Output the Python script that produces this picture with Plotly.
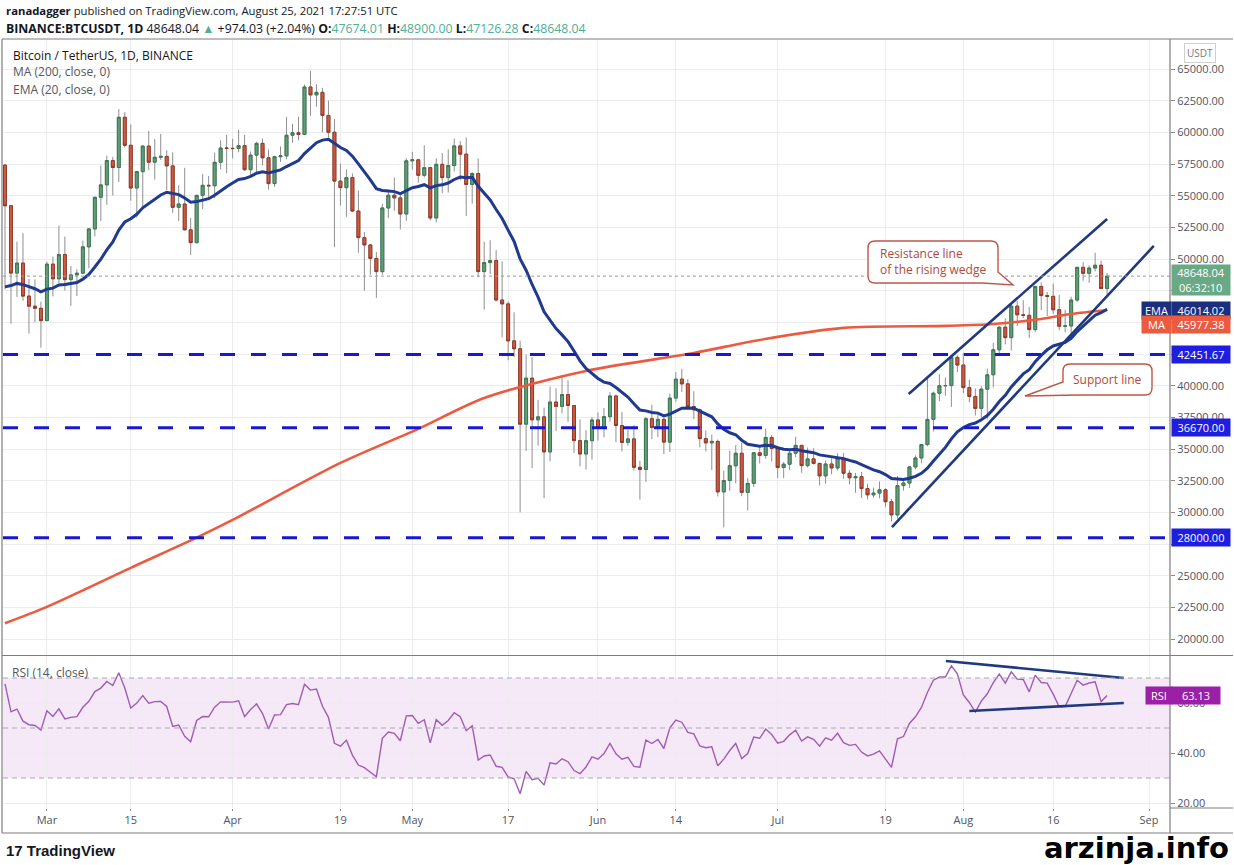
import plotly.graph_objects as go
import pandas as pd

# ---------------- data ----------------
start_date = "2021-02-22"
opens = [57412,54204,48891,49677,47073,46276,46107,
 45135,49595,48437,50349,48374,48747,48882,50959,52375,54875,55851,57773,57222,61188,58976,55605,56900,58912,57641,58030,58100,57351,54083,54342,52303,51293,55025,55817,55781,57635,58760,
 58740,58720,58950,57051,58202,59129,57991,55953,58077,58143,59770,59964,59835,63576,62959,63159,61334,60006,56150,55633,56425,53787,51690,51111,50047,49004,54030,55034,54825,53555,
 57750,57828,56610,57214,53241,57473,56428,57380,58928,58280,55883,56751,49008,49716,49880,46761,46456,43537,42910,36964,40596,37304,37537,34771,38706,38366,39294,38437,35663,34606,35658,
 37294,36687,37556,39187,36851,35520,35797,33556,33380,37389,36698,37341,35546,39021,40516,40144,38349,38093,35820,35484,35601,31614,32510,33676,34663,31577,32283,34702,34494,35912,
 35045,33538,33800,34668,35288,33690,34220,33863,32875,33815,33502,34259,33086,32729,32820,31874,31383,31520,31778,30839,29796,32110,32314,33582,34292,35350,37337,39406,39995,40008,42235,
 41626,39846,39147,38207,39723,40862,42836,44614,43792,46281,45595,45555,44428,47834,47113,47056,45993,44696,44714,46760,49340,48868,49285,49508,47674]
highs = [57508,54204,51374,52042,48424,48395,46638,
 49790,50200,52640,51773,49448,49200,51450,52402,54895,57387,58150,58058,61844,61599,60633,56938,58981,60100,59468,59880,58589,58430,55830,57200,53238,55073,56700,56559,58405,59368,59800,
 59490,60200,59791,58492,59251,59500,58655,58153,58894,61216,60680,61238,63777,64854,63800,63520,62506,61057,57526,57076,56757,55410,52130,51167,50551,54356,55460,56428,55196,57963,
 58458,57911,58981,57214,57939,58360,58650,59500,59300,59592,56862,57939,51367,51483,50700,49800,46643,45799,43546,42451,42250,38889,38270,39920,39791,40841,40411,38438,37338,36488,37534,
 37894,38237,39476,39289,37917,36480,36900,34068,37534,38491,37680,37437,39380,41064,41330,40528,39560,38202,36457,36137,35750,33298,34881,35298,35500,32700,34750,35298,36600,36100,
 35057,33977,34945,35967,35293,35118,35059,33918,34100,34262,34666,34679,33340,33114,33185,32249,31950,32435,31899,31063,32858,32586,33650,34500,35400,40550,39542,40900,40640,42316,42414,
 42599,40480,39780,39969,41350,43392,44700,45310,46454,46700,46743,46218,47886,48144,47392,48053,47160,46000,47033,49382,49757,49500,50500,49875,48900]
lows = [47622,44892,47004,46700,44106,45000,43000,
 45116,47047,48100,47500,46300,47070,48882,49274,51789,53005,54272,55013,56078,58800,54600,53271,54123,57023,56270,57821,55450,53650,53000,52819,50313,51225,53950,54691,54800,57071,56769,
 57935,58428,56955,56500,56800,57400,55473,55700,57654,57870,59167,59365,59805,61301,62021,60000,59580,50931,54221,53329,53696,50500,47500,48753,46930,48753,53222,53813,52330,53013,
 57052,56035,56435,53046,52900,55200,55241,56900,56235,53400,54370,48600,46000,48800,46650,43825,42002,42250,30000,34850,33488,35257,31111,34031,36419,37800,37134,34684,33632,33379,34153,
 35666,35920,37171,35555,34800,35258,33300,31000,32396,35782,35936,34601,34757,38730,39506,38116,37365,35130,34803,33336,31251,28805,31683,32286,31275,30151,32000,33862,34225,34017,
 32712,32699,33316,34357,33125,33532,33777,32120,32261,33004,33307,32658,32202,31550,31133,31020,31164,31108,30407,29278,29482,31708,31925,33401,33881,35206,36383,38772,39200,38323,41064,
 39422,38690,37642,37508,37332,39853,42446,43261,42779,44723,45341,43770,44218,45971,45500,45660,44376,44203,43955,46622,48280,48119,49028,47600,47126]
closes = [54204,48891,49677,47073,46276,46107,45135,
 49595,48437,50349,48374,48747,48882,50959,52375,54875,55851,57773,57222,61188,58976,55605,56900,58912,57641,58030,58100,57351,54083,54342,52303,51293,55025,55817,55781,57635,58760,58740,
 58720,58950,57051,58202,59129,57991,55953,58077,58143,59770,59964,59835,63576,62959,63159,61334,60006,56150,55633,56425,53787,51690,51111,50047,49004,54030,55034,54825,53555,57750,
 57828,56610,57214,53241,57473,56428,57380,58928,58280,55883,56751,49008,49716,49880,46761,46456,43537,42910,36964,40596,37304,37537,34771,38706,38366,39294,38437,35663,34606,35658,37294,
 36687,37556,39187,36851,35520,35797,33556,33380,37389,36698,37341,35546,39021,40516,40144,38349,38093,35820,35484,35601,31614,32510,33676,34663,31577,32283,34702,34494,35912,35045,
 33538,33800,34668,35288,33690,34220,33863,32875,33815,33502,34259,33086,32729,32820,31874,31383,31520,31778,30839,29796,32110,32314,33582,34292,35350,37337,39406,39995,40008,42235,41626,
 39846,39147,38207,39723,40862,42836,44614,43792,46281,45595,45555,44428,47834,47113,47056,45993,44696,44714,46760,49340,48868,49285,49508,47674,48648.04]

# MA(200)
ma_dates = ["2021-02-22","2021-03-01","2021-03-15","2021-03-26","2021-04-01","2021-04-19","2021-05-02",
            "2021-05-13","2021-05-30","2021-06-17","2021-06-28","2021-07-12","2021-07-29","2021-08-06",
            "2021-08-14","2021-08-19","2021-08-25"]
ma_values = [21250,22540,25620,28000,29400,33900,36590,39030,41160,42580,43610,44560,44720,44870,45270,45660,45977.38]

ema_seed = 47800          # EMA(20) value at the first candle
rsi_seed_gain = 1500      # Wilder averages before the first candle
rsi_seed_loss = 470

levels = [42451.67, 36670.00, 28000.00]
last_price = 48648.04
ema_last = 46014.02
ma_last = 45977.38
rsi_last = 63.13

tick_dates = ["2021-03-01","2021-03-15","2021-04-01","2021-04-19","2021-05-01","2021-05-17","2021-06-01",
              "2021-06-14","2021-07-01","2021-07-19","2021-08-01","2021-08-16","2021-09-01"]
tick_text = ["Mar","15","Apr","19","May","17","Jun","14","Jul","19","Aug","16","Sep"]
price_ticks = list(range(20000, 65001, 2500))
hidden_price_ticks = [27500, 42500, 45000, 47500]   # covered by the price tags
rsi_ticks = [20, 40, 60]

# hand-drawn trendlines (date, value)
resistance_line = [("2021-07-22 21:00", 39340), ("2021-08-25 00:00", 53160)]
support_line = [("2021-07-20 02:00", 28840), ("2021-09-01 19:00", 51030)]
rsi_upper = [("2021-07-29 02:00", 76.8), ("2021-08-27 19:00", 70.0)]
rsi_lower = [("2021-08-02 00:00", 56.8), ("2021-08-27 19:00", 60.0)]

# ---------------- derived ----------------
dates = pd.date_range(start_date, periods=len(closes), freq="D")
body_hi = [max(o, c) for o, c in zip(opens, closes)]
body_lo = [min(o, c) for o, c in zip(opens, closes)]
price_tick_text = ["" if v in hidden_price_ticks else f"{v:.2f}" for v in price_ticks]

ema = []
e = ema_seed
for i, c in enumerate(closes):
    if i > 0:
        e = e + (c - e) * 2 / 21
    ema.append(e)

rsi = []
ag, al = rsi_seed_gain, rsi_seed_loss
prev = opens[0]
for c in closes:
    ch = c - prev
    ag = (ag * 13 + max(ch, 0)) / 14
    al = (al * 13 + max(-ch, 0)) / 14
    rsi.append(100 - 100 / (1 + ag / al))
    prev = c

# ---------------- figure ----------------
W, H = 1234, 865
L, R, T, B = 3, 64, 40, 57
PW, PH = W - L - R, H - T - B


def px(x):
    return (x - L) / PW


def py(y):
    return (H - B - y) / PH


GREEN_FILL, GREEN_LINE = "#5f9f78", "#3d7853"
RED_FILL, RED_LINE = "#cf5a40", "#933a28"
WICK = "#8f8f8f"
FONT = "Open Sans"

fig = go.Figure()

fig.add_trace(go.Candlestick(
    x=dates, open=opens, high=highs, low=lows, close=closes, xaxis="x", yaxis="y",
    increasing=dict(line=dict(color=WICK, width=1), fillcolor=WICK),
    decreasing=dict(line=dict(color=WICK, width=1), fillcolor=WICK),
    hoverinfo="skip", showlegend=False))
fig.add_trace(go.Candlestick(
    x=dates, open=opens, high=body_hi, low=body_lo, close=closes, xaxis="x", yaxis="y",
    increasing=dict(line=dict(color=GREEN_LINE, width=1), fillcolor=GREEN_FILL),
    decreasing=dict(line=dict(color=RED_LINE, width=1), fillcolor=RED_FILL),
    hoverinfo="skip", showlegend=False))

fig.add_trace(go.Scatter(x=pd.to_datetime(ma_dates), y=ma_values, mode="lines", xaxis="x", yaxis="y",
                         line=dict(color="#ec5a40", width=2.6, shape="spline", smoothing=0.8),
                         hoverinfo="skip", showlegend=False))
fig.add_trace(go.Scatter(x=dates, y=ema, mode="lines", xaxis="x", yaxis="y",
                         line=dict(color="#1f3a8f", width=3), hoverinfo="skip", showlegend=False))

fig.add_trace(go.Scatter(x=dates, y=rsi, mode="lines", xaxis="x2", yaxis="y2",
                         line=dict(color="#a05cb4", width=1.4), hoverinfo="skip", showlegend=False))

# trendlines
for pts, ax in [(resistance_line, "y"), (support_line, "y"), (rsi_upper, "y2"), (rsi_lower, "y2")]:
    xr = "x" if ax == "y" else "x2"
    fig.add_trace(go.Scatter(x=[pd.Timestamp(p[0]) for p in pts], y=[p[1] for p in pts], mode="lines",
                             xaxis=xr, yaxis=ax, line=dict(color="#203a80", width=2.6),
                             hoverinfo="skip", showlegend=False))

x_range = [pd.Timestamp("2021-02-21 16:00"), pd.Timestamp("2021-09-04 12:00")]
grid = "#ececef"
axis_font = dict(family=FONT, size=11, color="#50535e")

main_bottom = py(655)
rsi_top = py(656)

fig.update_layout(
    width=W, height=H, margin=dict(l=L, r=R, t=T, b=B),
    paper_bgcolor="white", plot_bgcolor="white",
    xaxis=dict(domain=[0, 1], anchor="y", range=x_range, showticklabels=False, tickvals=pd.to_datetime(tick_dates),
               showgrid=True, gridcolor=grid, zeroline=False, rangeslider=dict(visible=False), fixedrange=True),
    xaxis2=dict(domain=[0, 1], anchor="y2", range=x_range, matches="x", tickvals=pd.to_datetime(tick_dates),
                ticktext=tick_text, showgrid=True, gridcolor=grid, ticks="outside", ticklen=2, tickcolor="#888",
                tickfont=axis_font, zeroline=False, rangeslider=dict(visible=False)),
    yaxis=dict(domain=[main_bottom, 1], anchor="x", side="right", range=[18737, 67290], tickvals=price_ticks,
               ticktext=price_tick_text, showgrid=True, gridcolor=grid, ticks="outside", ticklen=4, tickcolor="#888",
               tickfont=axis_font, zeroline=False),
    yaxis2=dict(domain=[0, rsi_top], anchor="x2", side="right", range=[18, 78.8], tickvals=rsi_ticks,
                tickformat=".2f", showgrid=True, gridcolor=grid, ticks="outside", ticklen=4, tickcolor="#888",
                tickfont=axis_font, zeroline=False),
    font=dict(family=FONT),
)

shapes = []
# RSI band
shapes.append(dict(type="rect", xref="x2 domain", yref="y2", x0=0, x1=1, y0=30, y1=70,
                   fillcolor="rgba(156,39,176,0.10)", line=dict(width=0), layer="below"))
for v in [70, 50, 30]:
    shapes.append(dict(type="line", xref="x2 domain", yref="y2", x0=0, x1=1, y0=v, y1=v,
                       line=dict(color="#a9a9b0", width=1, dash="5px,4px")))
# horizontal dashed levels
for v in levels:
    shapes.append(dict(type="line", xref="x domain", yref="y", x0=0, x1=1, y0=v, y1=v,
                       line=dict(color="#1818d0", width=3, dash="15px,16px")))
# last price dotted line
shapes.append(dict(type="line", xref="x domain", yref="y", x0=0, x1=1, y0=last_price, y1=last_price,
                   line=dict(color="#9a9a9a", width=1, dash="dot")))
# frame lines
FR = "#7d7d7d"
shapes += [
    dict(type="line", xref="paper", yref="paper", x0=px(2), x1=px(2), y0=py(39), y1=py(833), line=dict(color=FR, width=1.2)),
    dict(type="line", xref="paper", yref="paper", x0=px(2), x1=px(1233), y0=py(39), y1=py(39), line=dict(color=FR, width=1.2)),
    dict(type="line", xref="paper", yref="paper", x0=px(2), x1=px(1233), y0=py(833), y1=py(833), line=dict(color=FR, width=1.2)),
    dict(type="line", xref="paper", yref="paper", x0=px(1170), x1=px(1170), y0=py(39), y1=py(833), line=dict(color=FR, width=1.2)),
    dict(type="line", xref="paper", yref="paper", x0=px(2), x1=px(1233), y0=py(655.5), y1=py(655.5), line=dict(color=FR, width=1.2)),
    dict(type="line", xref="paper", yref="paper", x0=px(1170), x1=px(1233), y0=py(808), y1=py(808), line=dict(color=FR, width=1)),
]


def callout(pts):
    s = ""
    for cmd in pts:
        if cmd[0] in ("M", "L"):
            s += f"{cmd[0]} {px(cmd[1]):.5f},{py(cmd[2]):.5f} "
        elif cmd[0] == "Q":
            s += f"Q {px(cmd[1]):.5f},{py(cmd[2]):.5f} {px(cmd[3]):.5f},{py(cmd[4]):.5f} "
    return s + "Z"


r = 7
c1 = callout([("M", 868 + r, 241), ("L", 998 - r, 241), ("Q", 998, 241, 998, 241 + r), ("L", 998, 272),
              ("L", 1013, 285), ("L", 982, 283), ("L", 868 + r, 283), ("Q", 868, 283, 868, 283 - r),
              ("L", 868, 241 + r), ("Q", 868, 241, 868 + r, 241)])
c2 = callout([("M", 1063 + r, 364), ("L", 1152 - r, 364), ("Q", 1152, 364, 1152, 364 + r), ("L", 1152, 395 - r),
              ("Q", 1152, 395, 1152 - r, 395), ("L", 1078, 395), ("L", 1025, 396), ("L", 1063, 382),
              ("L", 1063, 364 + r), ("Q", 1063, 364, 1063 + r, 364)])
for p in (c1, c2):
    shapes.append(dict(type="path", xref="paper", yref="paper", path=p, fillcolor="white",
                       line=dict(color="#c0564a", width=1.4)))

fig.update_layout(shapes=shapes)

ann = []
TXT = "#131722"
GR = "#4fae97"
ann.append(dict(xref="paper", yref="paper", x=px(4), y=py(10), xanchor="left", yanchor="middle", showarrow=False,
                text="<b>ranadagger</b> published on TradingView.com, August 25, 2021 17:27:51 UTC",
                font=dict(family=FONT, size=11.3, color=TXT)))
ann.append(dict(xref="paper", yref="paper", x=px(4), y=py(28), xanchor="left", yanchor="middle", showarrow=False,
                text=(f"<b>BINANCE:BTCUSDT, 1D</b> 48648.04 <span style='color:{GR}'>▲</span> +974.03 (+2.04%) "
                      f"<b>O:</b><span style='color:{GR}'>47674.01</span> <b>H:</b><span style='color:{GR}'>48900.00</span> "
                      f"<b>L:</b><span style='color:{GR}'>47126.28</span> <b>C:</b><span style='color:{GR}'>48648.04</span>"),
                font=dict(family=FONT, size=12.3, color=TXT)))
ann.append(dict(xref="paper", yref="paper", x=px(11), y=py(55), xanchor="left", yanchor="middle", showarrow=False,
                text="Bitcoin / TetherUS, 1D, BINANCE", font=dict(family=FONT, size=12, color=TXT)))
ann.append(dict(xref="paper", yref="paper", x=px(11), y=py(72), xanchor="left", yanchor="middle", showarrow=False,
                text="MA (200, close, 0)", font=dict(family=FONT, size=12, color="#555860")))
ann.append(dict(xref="paper", yref="paper", x=px(11), y=py(89), xanchor="left", yanchor="middle", showarrow=False,
                text="EMA (20, close, 0)", font=dict(family=FONT, size=12, color="#555860")))
ann.append(dict(xref="paper", yref="paper", x=px(10), y=py(672), xanchor="left", yanchor="middle", showarrow=False,
                text="RSI (14, close)", font=dict(family=FONT, size=12, color="#555860")))
ann.append(dict(xref="paper", yref="paper", x=px(1200), y=py(53), xanchor="center", yanchor="middle", showarrow=False,
                text="USDT", font=dict(family=FONT, size=10, color="#787b86"), bordercolor="#d0d0d0",
                borderwidth=1, borderpad=2, bgcolor="white"))

ann.append(dict(xref="paper", yref="paper", x=px(878), y=py(261), xanchor="left", yanchor="middle", showarrow=False,
                align="left", text="Resistance line<br>of the rising wedge",
                font=dict(family=FONT, size=12, color="#b14a3c")))
ann.append(dict(xref="paper", yref="paper", x=px(1107), y=py(379), xanchor="center", yanchor="middle", showarrow=False,
                text="Support line", font=dict(family=FONT, size=12, color="#b14a3c")))


def tag(ypix, text, bg, h=15, w=56, x=1171, size=11):
    return dict(xref="paper", yref="paper", x=px(x), y=py(ypix), xanchor="left", yanchor="middle", showarrow=False,
                text=text, bgcolor=bg, width=w, height=h, font=dict(family=FONT, size=size, color="white"),
                borderpad=1)


def ypix_main(v):
    return 69 + (65000 - v) * 570 / 45000


for v in levels:
    ann.append(tag(ypix_main(v), f"{v:.2f}", "#1e1ee0"))
ann.append(tag(ypix_main(last_price) + 4, f"{last_price:.2f}<br>06:32:10", "#6aa985", h=28))
ann.append(tag(310, f"{ema_last:.2f}", "#1c2f7e"))
ann.append(tag(310, "EMA", "#1c2f7e", w=27, x=1141))
ann.append(tag(324, f"{ma_last:.2f}", "#ec5a40"))
ann.append(tag(324, "MA", "#ec5a40", w=27, x=1141))
ann.append(tag(753 - (rsi_last - 40) * 2.5, f"{rsi_last:.2f}", "#9c1fa8", w=46))
ann.append(tag(753 - (rsi_last - 40) * 2.5, "RSI", "#9c1fa8", w=24, x=1145))

ann.append(dict(xref="paper", yref="paper", x=px(4), y=py(850), xanchor="left", yanchor="middle", showarrow=False,
                text="<b>17 TradingView</b>", font=dict(family="Liberation Sans", size=15, color="#131722")))
ann.append(dict(xref="paper", yref="paper", x=px(1231), y=py(848), xanchor="right", yanchor="middle", showarrow=False,
                text="<b>arzinja.info</b>", font=dict(family="DejaVu Sans", size=29, color="black")))

fig.update_layout(annotations=ann)
fig.write_html("out.html", config={"displayModeBar": False},
               post_script="document.body.style.margin='0px';document.body.style.padding='0px';")
